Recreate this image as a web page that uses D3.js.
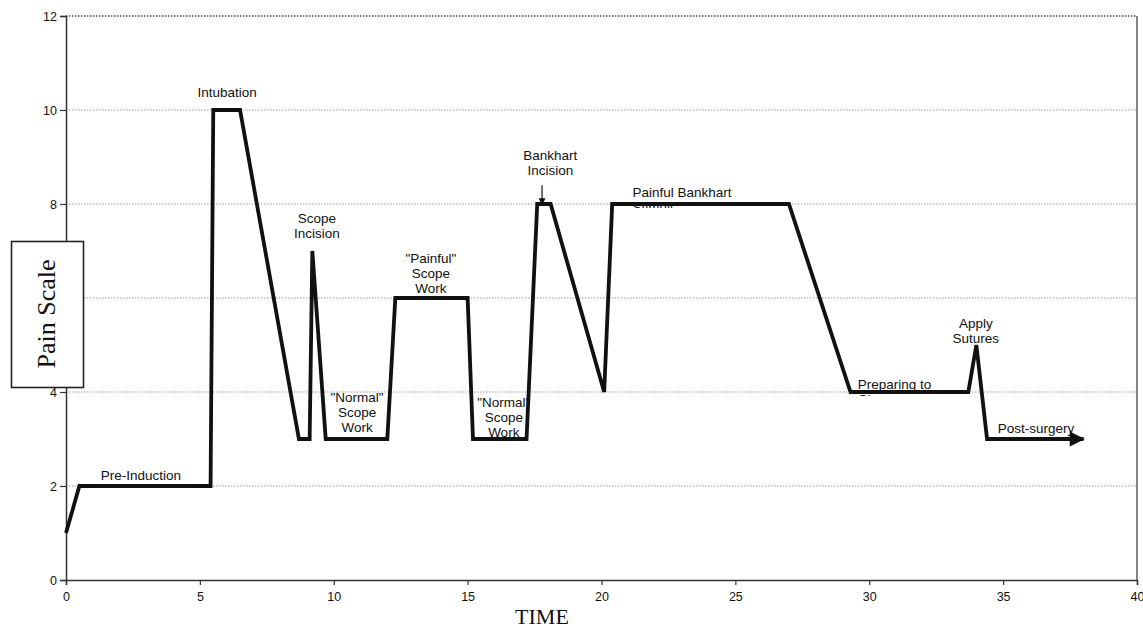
<!DOCTYPE html>
<html>
<head>
<meta charset="utf-8">
<script src="https://cdn.jsdelivr.net/npm/d3@7"></script>
<style>
  body { margin: 0; background: #fff; overflow: hidden; }
  svg { display: block; }
  .tick text { font-family: "Liberation Sans", Arial, sans-serif; font-size: 12.5px; fill: #111; }
  .note { font-family: "Liberation Sans", Arial, sans-serif; font-size: 13.5px; fill: #111; }
</style>
</head>
<body>
<div class="container"></div>
<script>
// pain curve through the surgery
const times = [0, 0.5, 5.4, 5.5, 6.5, 8.7, 9.1, 9.2, 9.7, 12.0, 12.3, 15.0, 15.2, 17.2, 17.6, 18.1, 20.1, 20.4, 27.0, 29.3, 33.7, 34.0, 34.4, 38.0];
const pain = [1, 2, 2, 10, 10, 3, 3, 7, 3, 3, 6, 6, 3, 3, 8, 8, 4, 8, 8, 4, 4, 5, 3, 3];

const xTicks = [0, 5, 10, 15, 20, 25, 30, 35, 40];
const yTicks = [0, 2, 4, 6, 8, 10, 12];

// annotation text, anchored in data units (x, y of first baseline)
const noteLines = [
  ['Intubation'],
  ['Pre-Induction'],
  ['Scope', 'Incision'],
  ['"Painful"', 'Scope', 'Work'],
  ['"Normal"', 'Scope', 'Work'],
  ['"Normal"', 'Scope', 'Work'],
  ['Bankhart', 'Incision'],
  ['Painful Bankhart', 'Stimuli'],
  ['Preparing to', 'Close'],
  ['Apply', 'Sutures'],
  ['Post-surgery']
];
const noteX = [6.02, 2.8, 9.37, 13.63, 10.87, 16.35, 18.09, 21.16, 29.57, 33.98, 34.8];
const noteY = [10.28, 2.12, 7.6, 6.75, 3.79, 3.69, 8.94, 8.15, 4.06, 5.36, 3.13];
const noteAnchor = ['middle', 'middle', 'middle', 'middle', 'middle', 'middle', 'middle', 'start', 'start', 'middle', 'start'];

const width = 1143;
const height = 631;
const margin = { top: 16, right: 6, bottom: 51, left: 66 };
const chartWidth = width - margin.left - margin.right;
const chartHeight = height - margin.top - margin.bottom;

const svg = d3.select('.container').append('svg').attr('width', width).attr('height', height);
const chart = svg.append('g').attr('transform', `translate(${margin.left},${margin.top})`);

const xScale = d3.scaleLinear().domain([0, 40]).range([0, chartWidth]);
const yScale = d3.scaleLinear().domain([0, 12]).range([chartHeight, 0]);

// dotted grid
chart.append('g')
  .selectAll('line')
  .data(yTicks.filter(t => t > 0))
  .enter()
  .append('line')
  .attr('x1', 0)
  .attr('x2', chartWidth)
  .attr('y1', d => yScale(d))
  .attr('y2', d => yScale(d))
  .attr('stroke', d => (d === 12 ? '#555' : '#9a9a9a'))
  .attr('stroke-width', d => (d === 12 ? 1.4 : 1))
  .attr('stroke-dasharray', '1.5,1.5');

// right border
chart.append('line')
  .attr('x1', chartWidth).attr('x2', chartWidth)
  .attr('y1', 0).attr('y2', chartHeight)
  .attr('stroke', '#444').attr('stroke-width', 1.3);

const bottomAxis = d3.axisBottom(xScale).tickValues(xTicks).tickSize(5).tickPadding(7);
const bottomGroup = chart.append('g').attr('transform', `translate(0,${chartHeight})`);
bottomAxis(bottomGroup);

const leftAxis = d3.axisLeft(yScale).tickValues(yTicks).tickSize(6).tickPadding(3);
const leftGroup = chart.append('g');
leftAxis(leftGroup);

[bottomGroup, leftGroup].forEach(g => {
  g.select('.domain').attr('stroke', '#333').attr('stroke-width', 1.5);
  g.selectAll('.tick line').attr('stroke', '#333').attr('stroke-width', 1.2);
});

// arrow head for the end of the curve
svg.append('defs')
  .append('marker')
  .attr('id', 'arrow')
  .attr('viewBox', '0 0 10 10')
  .attr('refX', 9)
  .attr('refY', 5)
  .attr('markerWidth', 5.5)
  .attr('markerHeight', 4)
  .attr('markerUnits', 'strokeWidth')
  .attr('orient', 'auto')
  .append('path')
  .attr('d', 'M0,0 L10,5 L0,10 Z')
  .attr('fill', '#111');

const points = times.map((t, i) => [t, pain[i]]);
const line = d3.line().x(d => xScale(d[0])).y(d => yScale(d[1]));

// annotations (drawn under the curve, like the original where the line hides text)
const notes = chart.append('g');
noteLines.forEach((lines, i) => {
  const text = notes.append('text')
    .attr('class', 'note')
    .attr('text-anchor', noteAnchor[i])
    .attr('x', xScale(noteX[i]))
    .attr('y', yScale(noteY[i]));
  lines.forEach((l, j) => {
    text.append('tspan')
      .attr('x', xScale(noteX[i]))
      .attr('dy', j === 0 ? 0 : 15)
      .text(l);
  });
});

// second lines of the two long labels are cut off just under the plateau
const clips = svg.select('defs');
[[7, 8], [8, 4]].forEach(([i, level], k) => {
  const id = `clip${k}`;
  clips.append('clipPath').attr('id', id)
    .append('rect')
    .attr('x', -margin.left).attr('y', -margin.top)
    .attr('width', width).attr('height', yScale(level) + 4 + margin.top);
  notes.selectAll('text').filter((d, n) => n === i).attr('clip-path', `url(#${id})`);
});

chart.append('path')
  .datum(points)
  .attr('d', line)
  .attr('fill', 'none')
  .attr('stroke', '#111')
  .attr('stroke-width', 3.8)
  .attr('stroke-linejoin', 'miter')
  .attr('stroke-miterlimit', 3)
  .attr('marker-end', 'url(#arrow)');

// small pointer for Bankhart incision
chart.append('line')
  .attr('x1', xScale(17.78)).attr('x2', xScale(17.78))
  .attr('y1', yScale(8.4)).attr('y2', yScale(8.02))
  .attr('stroke', '#111').attr('stroke-width', 1.2);
chart.append('path')
  .attr('d', `M${xScale(17.78) - 3.5},${yScale(8.12)} L${xScale(17.78) + 3.5},${yScale(8.12)} L${xScale(17.78)},${yScale(7.98)} Z`)
  .attr('fill', '#111');

// axis titles
const titleBox = svg.append('g');
titleBox.append('rect')
  .attr('x', 11.5).attr('y', 241.5)
  .attr('width', 72).attr('height', 146)
  .attr('fill', '#fff').attr('stroke', '#222').attr('stroke-width', 1.6);
titleBox.append('text')
  .text('Pain Scale')
  .attr('transform', 'translate(55,314) rotate(-90)')
  .attr('text-anchor', 'middle')
  .attr('font-family', '"Liberation Serif", "Times New Roman", serif')
  .attr('font-size', 26)
  .attr('fill', '#111');

svg.append('text')
  .text('TIME')
  .attr('x', 542)
  .attr('y', 624)
  .attr('text-anchor', 'middle')
  .attr('font-family', '"Liberation Serif", "Times New Roman", serif')
  .attr('font-size', 22)
  .attr('fill', '#111');
</script>
</body>
</html>
